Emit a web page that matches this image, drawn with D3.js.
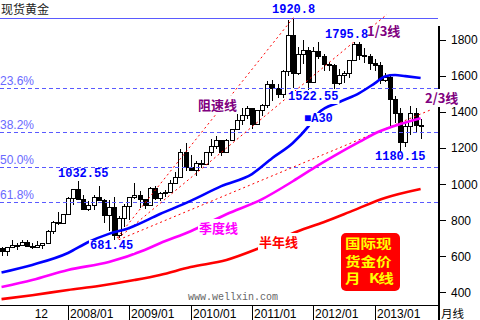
<!DOCTYPE html>
<html><head><meta charset="utf-8">
<script src="https://cdn.jsdelivr.net/npm/d3@7"></script>
<style>body{margin:0;background:#fff}svg{display:block}</style>
</head><body>
<svg id="c" width="480" height="320"></svg>
<script>
// ---------- DATA ----------
const months = ["2006/11","2006/12",
 "2007/01","2007/02","2007/03","2007/04","2007/05","2007/06","2007/07","2007/08","2007/09","2007/10","2007/11","2007/12",
 "2008/01","2008/02","2008/03","2008/04","2008/05","2008/06","2008/07","2008/08","2008/09","2008/10","2008/11","2008/12",
 "2009/01","2009/02","2009/03","2009/04","2009/05","2009/06","2009/07","2009/08","2009/09","2009/10","2009/11","2009/12",
 "2010/01","2010/02","2010/03","2010/04","2010/05","2010/06","2010/07","2010/08","2010/09","2010/10","2010/11","2010/12",
 "2011/01","2011/02","2011/03","2011/04","2011/05","2011/06","2011/07","2011/08","2011/09","2011/10","2011/11","2011/12",
 "2012/01","2012/02","2012/03","2012/04","2012/05","2012/06","2012/07","2012/08","2012/09","2012/10","2012/11","2012/12",
 "2013/01","2013/02","2013/03","2013/04","2013/05","2013/06","2013/07","2013/08","2013/09","2013/10"];
const opens  = [603,647, 632,650,666,663,679,657,650,666,672,743,789,783, 834,923,972,916,864,886,929,913,830,874,717,815,
 880,927,942,916,884,979,926,954,955,1008,1040,1181, 1096,1081,1118,1113,1180,1214,1244,1181,1247,1307,1358,1386,
 1421,1333,1410,1439,1556,1536,1500,1628,1826,1620,1722,1746, 1565,1739,1711,1669,1664,1561,1604,1615,1692,1776,1719,1713,
 1675,1663,1579,1595,1472,1393,1234,1323,1395,1327];
const highs  = [649,650, 655,690,674,692,690,673,684,675,745,795,845,837, 928,975,1032.55,940,905,943,988,916,912,930,825,889,
 932,1007,961,918,983,989,960,967,1024,1070,1195,1227, 1162,1132,1136,1180,1249,1266,1245,1249,1307,1388,1424,1432,
 1424,1413,1447,1575,1577,1557,1632,1913,1920.8,1764,1802,1764, 1763,1791,1720,1677,1666,1640,1630,1692,1787,1795.8,1755,1724,
 1693,1679,1617,1605,1487,1424,1348,1434,1424,1362];
const lows   = [602,605, 603,648,636,660,651,641,648,642,669,727,776,779, 834,883,915,855,851,860,908,786,740,681.45,704,765,
 802,918,866,865,878,913,908,931,950,1003,1040,1075, 1075,1044,1088,1111,1158,1195,1155,1176,1242,1313,1331,1360,
 1308,1327,1380,1422,1462,1478,1480,1600,1535,1604,1670,1522.55, 1563,1693,1627,1627,1527,1549,1564,1588,1691,1692,1672,1635,
 1626,1555,1567,1321,1338,1180.15,1208,1271,1292,1251];
const closes = [647,632, 650,666,663,679,657,650,666,672,743,789,783,834, 923,972,916,864,886,929,913,830,874,717,815,880,
 927,942,916,884,979,926,954,955,1008,1040,1181,1096, 1081,1118,1113,1180,1214,1244,1181,1247,1307,1358,1386,1421,
 1333,1410,1439,1556,1536,1500,1628,1826,1620,1722,1746,1565, 1739,1711,1669,1664,1561,1604,1615,1692,1776,1719,1713,1675,
 1663,1579,1595,1472,1393,1234,1323,1395,1327,1323];

// moving averages (month label, value)
const ma30Months  = ["2006/12","2007/06","2008/01","2008/05","2008/09","2009/01","2009/07","2010/01","2010/07","2011/01","2011/05","2011/09","2011/12","2012/02","2012/06","2012/10","2013/01","2013/03","2013/05","2013/07","2013/10"];
const ma30Values  = [511,553,619,680,725,758,835,908,990,1057,1146,1229,1320,1395,1455,1506,1560,1598,1606,1600,1590];
const ma60Months  = ["2006/12","2007/06","2008/01","2008/09","2009/04","2009/07","2010/01","2010/08","2011/03","2011/09","2012/02","2012/05","2012/10","2013/02","2013/06","2013/10"];
const ma60Values  = [430,469,525,569,636,673,740,834,918,1017,1106,1156,1235,1294,1334,1367];
const ma120Months = ["2006/12","2007/06","2008/01","2008/07","2009/02","2009/07","2010/01","2010/08","2011/02","2011/10","2012/03","2012/09","2013/03","2013/10"];
const ma120Values = [363,385,414,436,469,497,541,580,641,740,790,857,924,974];

const yTicks = [400,600,800,1000,1200,1400,1600,1800];
const yearTicks = ["2008/01","2009/01","2010/01","2011/01","2012/01","2013/01"];
const firstTickLabel = "12";
const fibLabels = ["23.6%","38.2%","50.0%","61.8%"];
const fibValues = [1534,1289,1095,900];
const topLevel = 1920.8;
const speedLow = {month:"2008/10", value:681.45};
const speedHigh = {month:"2011/09", value:1920.8};
const speedFractions = [0, 1/3, 2/3];
const speedEnds = ["2011/09","2013/03","2013/12"];
const speedEndOffsets = [0.4, 0.4, 0];
const boxLines = ["国际现","货金价","月","K线"];

// ---------- SCALES ----------
const mi = s => { const [Y,M] = s.split('/').map(Number); return (Y-2008)*12 + M - 1; };
const W = 438, H = 305;
const x = d3.scaleLinear().domain([-13.3, 72.4]).range([0, W]);
const y = d3.scaleLinear().domain([330.6, 2022.2]).range([H, 0]);

const svg = d3.select('#c');
svg.append('rect').attr('width',480).attr('height',320).attr('fill','#fff');
svg.append('clipPath').attr('id','clip').append('rect').attr('x',0).attr('y',0).attr('width',W).attr('height',H);
const plot = svg.append('g').attr('clip-path','url(#clip)');

// ---------- CANDLES ----------
const candles = months.map((m,i)=>({m:mi(m), o:opens[i], h:highs[i], l:lows[i], c:closes[i]}));
const cg = plot.append('g').attr('shape-rendering','crispEdges');
candles.forEach(d=>{
  const cx = Math.round(x(d.m));
  cg.append('line').attr('x1',cx+0.5).attr('x2',cx+0.5).attr('y1',y(d.h)).attr('y2',y(d.l)).attr('stroke','#000');
  const top = Math.round(y(Math.max(d.o,d.c))), bot = Math.round(y(Math.min(d.o,d.c)));
  cg.append('rect').attr('x',cx-1.5).attr('y',top+0.5).attr('width',4).attr('height',Math.max(1,bot-top))
    .attr('fill', d.c>=d.o ? '#fff' : '#000').attr('stroke','#000');
});

// ---------- FIB LINES ----------
plot.append('line').attr('x1',0).attr('x2',W).attr('y1',Math.round(y(topLevel))+0.5).attr('y2',Math.round(y(topLevel))+0.5)
  .attr('stroke','#5a5aff').attr('stroke-width',1);
fibValues.forEach(v=>{
  const yy = Math.round(y(v))+0.5;
  plot.append('line').attr('x1',0).attr('x2',W).attr('y1',yy).attr('y2',yy)
    .attr('stroke','#5a5aff').attr('stroke-width',1).attr('stroke-dasharray','4,3');
});

// ---------- SPEED RESISTANCE LINES ----------
const m0 = mi(speedLow.month), m1 = mi(speedHigh.month);
speedFractions.forEach((f,i)=>{
  const v1 = speedHigh.value - f*(speedHigh.value - speedLow.value);
  const mEnd = mi(speedEnds[i]) + speedEndOffsets[i];
  const vEnd = speedLow.value + (v1 - speedLow.value)*(mEnd - m0)/(m1 - m0);
  plot.append('line').attr('x1',x(m0)).attr('y1',y(speedLow.value)).attr('x2',x(mEnd)).attr('y2',y(vEnd))
    .attr('stroke','#ff0000').attr('stroke-width',1).attr('stroke-dasharray','2,3');
});

// ---------- MOVING AVERAGES ----------
const line = d3.line().x(d=>x(d[0])).y(d=>y(d[1])).curve(d3.curveMonotoneX);
[[ma120Months,ma120Values,'#ff0000'],[ma60Months,ma60Values,'#ff00ff'],[ma30Months,ma30Values,'#0000ff']].forEach(([ms,vs,col])=>{
  plot.append('path').attr('d', line(ms.map((m,i)=>[mi(m),vs[i]]))).attr('fill','none')
    .attr('stroke',col).attr('stroke-width',2.6);
});

// ---------- AXES ----------
const ax = svg.append('g').attr('shape-rendering','crispEdges');
ax.append('line').attr('x1',0).attr('x2',W).attr('y1',H+0.5).attr('y2',H+0.5).attr('stroke','#000');
ax.append('line').attr('x1',W+0.5).attr('x2',W+0.5).attr('y1',26).attr('y2',320).attr('stroke','#000').attr('stroke-width',2);
yTicks.forEach(v=>{
  const yy = Math.round(y(v))+0.5;
  ax.append('line').attr('x1',W+1).attr('x2',W+8).attr('y1',yy).attr('y2',yy).attr('stroke','#000');
  svg.append('text').attr('x',451).attr('y',y(v)).attr('dy','0.35em').text(v)
    .attr('font-family','Liberation Sans, Arial, sans-serif').attr('font-size',12).attr('fill','#000');
});
yearTicks.forEach(t=>{
  const xx = Math.round(x(mi(t)))+0.5;
  ax.append('line').attr('x1',xx).attr('x2',xx).attr('y1',H).attr('y2',320).attr('stroke','#000');
  svg.append('text').attr('x',xx+1.5).attr('y',318).text(t)
    .attr('font-family','Liberation Sans, Arial, sans-serif').attr('font-size',12).attr('fill','#000');
});
svg.append('text').attr('x',48).attr('y',318).attr('text-anchor','end').text(firstTickLabel)
  .attr('font-family','Liberation Sans, Arial, sans-serif').attr('font-size',12).attr('fill','#000');
svg.append('text').attr('x',441).attr('y',318).text('月线')
  .attr('font-family','Noto Sans CJK SC, sans-serif').attr('font-size',11.5).attr('fill','#000');

// ---------- LABELS ----------
function label(txt, xx, yy, o){
  const g = svg.append('g');
  const t = g.append('text').attr('x',xx).attr('y',yy).text(txt)
    .attr('font-family',o.font).attr('font-size',o.size).attr('font-weight',o.weight||'normal')
    .attr('fill',o.color).attr('text-anchor',o.anchor||'start');
  if (o.bg){
    const b = t.node().getBBox();
    g.insert('rect','text').attr('x',b.x-1).attr('y',b.y+1).attr('width',b.width+2).attr('height',b.height-1).attr('fill','#fff');
  }
  return t;
}
const MONO = 'Liberation Mono, DejaVu Sans Mono, monospace';
const CJK = 'Noto Sans CJK SC, sans-serif';
label('现货黄金', 1, 14, {font:CJK, size:12, color:'#222'});
fibLabels.forEach((l,i)=>{
  label(l, 0, Math.round(y(fibValues[i]))-3, {font:'Liberation Sans, Arial, sans-serif', size:12, color:'#6a6aff'});
});
const blueNum = {font:MONO, size:12, weight:'bold', color:'#0000ff', bg:true};
label('1920.8', 272, 13, blueNum);
label('1795.8', 325, 38, blueNum);
label('1032.55', 58, 177, blueNum);
label('1522.55', 288, 100, blueNum);
label('681.45', 90, 249, blueNum);
label('1180.15', 375, 160, blueNum);
label('■A30', 304, 122, {font:MONO, size:12, weight:'bold', color:'#0000ff', bg:true});
label('1/3线', 367, 36, {font:CJK, size:13, weight:'bold', color:'#800080'});
label('2/3线', 425, 103, {font:CJK, size:13, weight:'bold', color:'#800080', bg:true});
label('阻速线', 198, 110, {font:CJK, size:13, weight:'bold', color:'#800080', bg:true});
label('季度线', 199, 233, {font:CJK, size:13, weight:'bold', color:'#ff00ff', bg:true});
label('半年线', 259, 247, {font:CJK, size:13, weight:'bold', color:'#ff0000', bg:true});
label('www.wellxin.com', 188, 300, {font:MONO, size:10, color:'#666'});

// ---------- BOX ----------
svg.append('rect').attr('x',341).attr('y',233).attr('width',59).attr('height',58).attr('rx',5).attr('fill','#ff0000');
const boxPos = [[345,248],[345,265.5],[345,283],[369,283]];
boxLines.forEach((t,i)=>{
  svg.append('g').attr('transform',`translate(${boxPos[i][0]},${boxPos[i][1]}) scale(1.35,1.12)`)
    .append('text').attr('x',0).attr('y',0).text(t)
    .attr('font-family',CJK).attr('font-size',11.5).attr('font-weight','bold').attr('fill','#ffff00')
    .attr('letter-spacing', i===3 ? -1 : 0);
});
</script>
</body></html>
